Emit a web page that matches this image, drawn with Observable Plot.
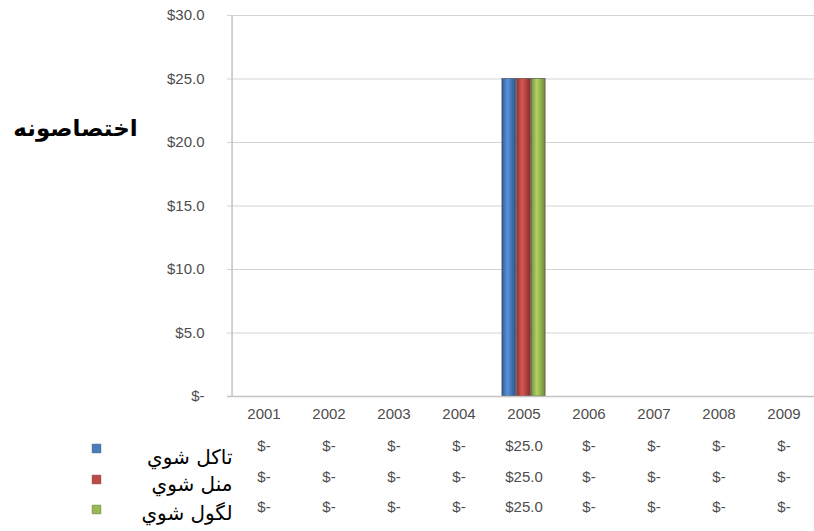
<!DOCTYPE html>
<html>
<head>
<meta charset="utf-8">
<script src="https://cdn.jsdelivr.net/npm/d3@7"></script>
<script src="https://cdn.jsdelivr.net/npm/@observablehq/plot@0.6"></script>
<style>
  html, body { margin: 0; padding: 0; background: #fff; }
</style>
</head>
<body>
<div id="chart"></div>
<script>
// ---- data ----
const years = ["2001", "2002", "2003", "2004", "2005", "2006", "2007", "2008", "2009"];
const seriesNames = ["تاکل شوي", "منل شوي", "لگول شوي"];
const planned   = [0, 0, 0, 0, 25, 0, 0, 0, 0];
const committed = [0, 0, 0, 0, 25, 0, 0, 0, 0];
const spent     = [0, 0, 0, 0, 25, 0, 0, 0, 0];
const yTicks = [0, 5, 10, 15, 20, 25, 30];
const yTitle = "اختصاصونه";
const colors = ["#4a7ebb", "#be4b48", "#98b954"];

// ---- build ----
const seriesValues = [planned, committed, spent];
const rows = seriesNames.map((name, s) =>
  years.map((year, i) => ({ series: name, year, value: seriesValues[s][i] })));
const fmt = v => v === 0 ? "$-" : "$" + v.toFixed(1);

const W = 814, H = 531, mL = 227, mR = -6, mT = 15, mB = 135;
const band = (W - mR - mL) / years.length;
const barW = 14.7;
const inset = (band - barW) / 2;
const rowDy = [54, 85, 115];
const labelDy = [67, 94, 123];
const numFont = "'Liberation Sans', Arial, sans-serif";
const arFont = "'DejaVu Sans', sans-serif";
const numColor = "#4d4d4d";

const marks = [
  Plot.ruleY(yTicks.filter(t => t > 0), { y: d => d, stroke: "#d4d4d4", strokeWidth: 1 }),
  ...rows.map((data, s) => Plot.barY(data.filter(d => d.value > 0), {
    x: "year", y: "value", fill: `url(#grad${s})`,
    insetLeft: inset, insetRight: inset, dx: (s - 1) * barW,
    stroke: "#3a3a3a", strokeWidth: 0.8, strokeOpacity: 0.7
  })),
  Plot.ruleY([0], { y: d => d, stroke: "#c4c4c4", strokeWidth: 1.5 }),
  Plot.ruleX([years[0]], { x: d => d, dx: -band / 2 + 1, stroke: "#c4c4c4", strokeWidth: 1.5 }),
  Plot.axisY({ ticks: yTicks, tickSize: 0, tickPadding: 23, tickFormat: fmt, label: null,
    fontSize: 15, fill: numColor, fontFamily: numFont }),
  Plot.axisX({ tickSize: 0, tickPadding: 12, label: null, fontSize: 15, fill: numColor, fontFamily: numFont }),
  ...rows.map((data, s) => Plot.text(data, {
    x: "year", text: d => fmt(d.value), frameAnchor: "bottom", dy: rowDy[s],
    fontSize: 15, fill: numColor, fontFamily: numFont
  })),
  ...seriesNames.map((name, s) => Plot.text([name], {
    text: d => d, frameAnchor: "bottom-left", dx: 5, dy: labelDy[s], textAnchor: "end",
    fontSize: 20, fill: "#000", fontFamily: arFont
  })),
  ...seriesNames.map((name, s) => Plot.dot([name], {
    frameAnchor: "bottom-left", dx: -131, dy: rowDy[s] - 2, symbol: "square", r: 4.8,
    fill: colors[s], stroke: d3.color(colors[s]).darker(0.8).formatHex(), strokeWidth: 0.8
  })),
  Plot.text([yTitle], {
    text: d => d, frameAnchor: "top-left", dx: -152, dy: 104, textAnchor: "middle",
    fontSize: 23, fontWeight: "bold", fill: "#000", fontFamily: arFont
  })
];

const svg = Plot.plot({
  width: W, height: H,
  marginLeft: mL, marginRight: mR, marginTop: mT, marginBottom: mB,
  x: { type: "band", domain: years, padding: 0, axis: null },
  y: { domain: [0, 30], axis: null },
  style: { background: "#fff", fontFamily: numFont, overflow: "hidden" },
  marks
});

// cylinder-like gradients for the columns
const grads = [
  ["#2e5d9a", "#5a90d6", "#2a5592"],
  ["#962f2c", "#d45955", "#8c2b28"],
  ["#76933a", "#b0d462", "#6e8a34"]
];
const defs = d3.select(svg).insert("defs", ":first-child");
grads.forEach((g, s) => {
  const lg = defs.append("linearGradient").attr("id", `grad${s}`)
    .attr("x1", "0").attr("x2", "1").attr("y1", "0").attr("y2", "0");
  lg.append("stop").attr("offset", "0%").attr("stop-color", g[0]);
  lg.append("stop").attr("offset", "40%").attr("stop-color", g[1]);
  lg.append("stop").attr("offset", "100%").attr("stop-color", g[2]);
});

document.getElementById("chart").appendChild(svg);
</script>
</body>
</html>
